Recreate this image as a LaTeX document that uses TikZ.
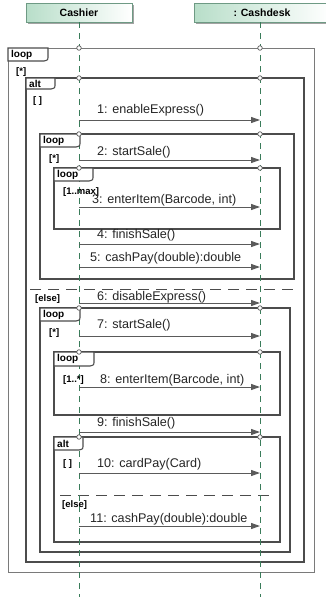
\documentclass[tikz,border=0pt]{standalone}
\usepackage{fontspec}
\setmainfont{Liberation Sans}
\usetikzlibrary{arrows.meta,shadows}
\definecolor{lifec}{HTML}{3A7C5A}
\definecolor{framec}{HTML}{4C4C4C}
\definecolor{outerc}{HTML}{7A7A7A}
\definecolor{headl}{HTML}{B8DEC9}
\definecolor{headb}{HTML}{6E9A84}
\definecolor{msgc}{HTML}{5A5A5A}
\newcommand\umlfr[8]{% name, x1,y1,x2,y2,tabright,tabbottom,label
  \draw[framec] (#2,#3) rectangle (#4,#5);
  \coordinate (#1) at (#2,#3);
}
\newcommand\umltab[6]{% name, x1,y1,tabright,tabbottom,label
  \draw[tabbox] (#2,#3) -- (#4,#3) -- (#4,#5-5) .. controls (#4,#5-1) .. (#4-4,#5) -- (#2,#5) -- cycle;
  \node[tablbl, anchor=west] (#1) at (#2+2,{(#3+#5)/2}) {#6};
}
\begin{document}
\begin{tikzpicture}[x=1pt,y=-1pt,
  framec/.style={draw=framec, line width=1.1pt},
  tabbox/.style={draw=framec, line width=1.1pt, fill=white},
  tablbl/.style={font=\fontsize{10}{11}\selectfont\bfseries, inner sep=1pt},
  guard/.style={font=\fontsize{9.5}{11}\selectfont\bfseries, inner sep=0pt, anchor=west},
  head/.style={draw=headb, line width=0.8pt, left color=headl, right color=white,
    drop shadow={shadow xshift=1.5pt, shadow yshift=-1.5pt, fill=black!45, opacity=0.8},
    font=\fontsize{10.5}{12}\selectfont\bfseries, minimum height=19pt, inner sep=0pt},
  life/.style={draw=lifec, line width=0.9pt, dash pattern=on 6pt off 5pt},
  msg/.style={draw=msgc, line width=1pt, -{Triangle[length=9pt,width=6pt]}},
  lbl/.style={font=\fontsize{12.6}{14}\selectfont, inner sep=0pt, anchor=west, text=black!85},
  gate/.style={circle, draw=msgc, line width=0.7pt, fill=white, minimum size=4.5pt, inner sep=0pt},
  sep/.style={draw=framec, line width=1pt, dash pattern=on 11pt off 7pt}]
\useasboundingbox (0,0) rectangle (326,597);
\fill[white] (0,0) rectangle (326,597);

% frames
\draw[draw=outerc, line width=1pt] (8,48) rectangle (314,572);
\umlfr{fA}{26}{78}{304}{562}{55}{89}{alt}
\umlfr{fL2}{40}{134}{294}{279}{80}{147}{loop}
\umlfr{fL3}{54}{168}{280}{229}{93}{181}{loop}
\umlfr{fL4}{40}{308}{290}{552}{80}{321}{loop}
\umlfr{fL5}{54}{352}{280}{415}{94}{366}{loop}
\umlfr{fA2}{54}{437}{280}{542}{83}{450}{alt}
\draw[sep] (30,289) -- (300,289);
\draw[sep] (60,495) -- (272,495);

% headers and lifelines
\node[head, minimum width=106pt] (cashier) at (79,12.5) {Cashier};
\node[head, minimum width=136pt] (cashdesk) at (262,12.5) {: Cashdesk};
\coordinate (cEnd) at (79,597);
\coordinate (dEnd) at (260,597);
\draw[life] (cashier.south) -- (cEnd);
\draw[life] (cashdesk.south -| dEnd) -- (dEnd);

% tabs
\umltab{tL1}{8}{48}{48}{61}{loop}
\umltab{tA}{26}{78}{55}{89}{alt}
\umltab{tL2}{40}{134}{80}{147}{loop}
\umltab{tL3}{54}{168}{93}{181}{loop}
\umltab{tL4}{40}{308}{80}{321}{loop}
\umltab{tL5}{54}{352}{94}{366}{loop}
\umltab{tA2}{54}{437}{83}{450}{alt}

% guards
\node[guard] (g1) at (16,72) {[*]};
\node[guard] (g2) at (33,101) {[ ]};
\node[guard] (g3) at (49,159) {[*]};
\node[guard] (g4) at (63,192) {[1..max]};
\node[guard] (g5) at (35,299) {[else]};
\node[guard] (g6) at (49,333) {[*]};
\node[guard] (g7) at (63,380) {[1..*]};
\node[guard] (g8) at (63,464) {[ ]};
\node[guard] (g9) at (62,505) {[else]};

% messages
\foreach \i/\y in {1/120,2/160,3/207,4/244,5/267,6/303,7/336,8/387,9/432,10/473,11/526}{
  \coordinate (c\i) at (79,\y);
  \coordinate (d\i) at (260,\y);
  \draw[msg] (c\i) -- (d\i);
}
\node[lbl] (m1) at (97,110) {1: enableExpress()};
\node[lbl] (m2) at (97,152) {2: startSale()};
\node[lbl] (m3) at (92,200) {3: enterItem(Barcode, int)};
\node[lbl] (m4) at (97,235) {4: finishSale()};
\node[lbl] (m5) at (90,258) {5: cashPay(double):double};
\node[lbl] (m6) at (97,297) {6: disableExpress()};
\node[lbl] (m7) at (97,325) {7: startSale()};
\node[lbl] (m8) at (100,380) {8: enterItem(Barcode, int)};
\node[lbl] (m9) at (97,423) {9: finishSale()};
\node[lbl] (m10) at (97,464) {10: cardPay(Card)};
\node[lbl] (m11) at (90,519) {11: cashPay(double):double};

% gates
\foreach \y in {48,78,134,168,308,352,437}{
  \node[gate] at (79,\y) {};
  \node[gate] at (260,\y) {};
}
\end{tikzpicture}
\end{document}
